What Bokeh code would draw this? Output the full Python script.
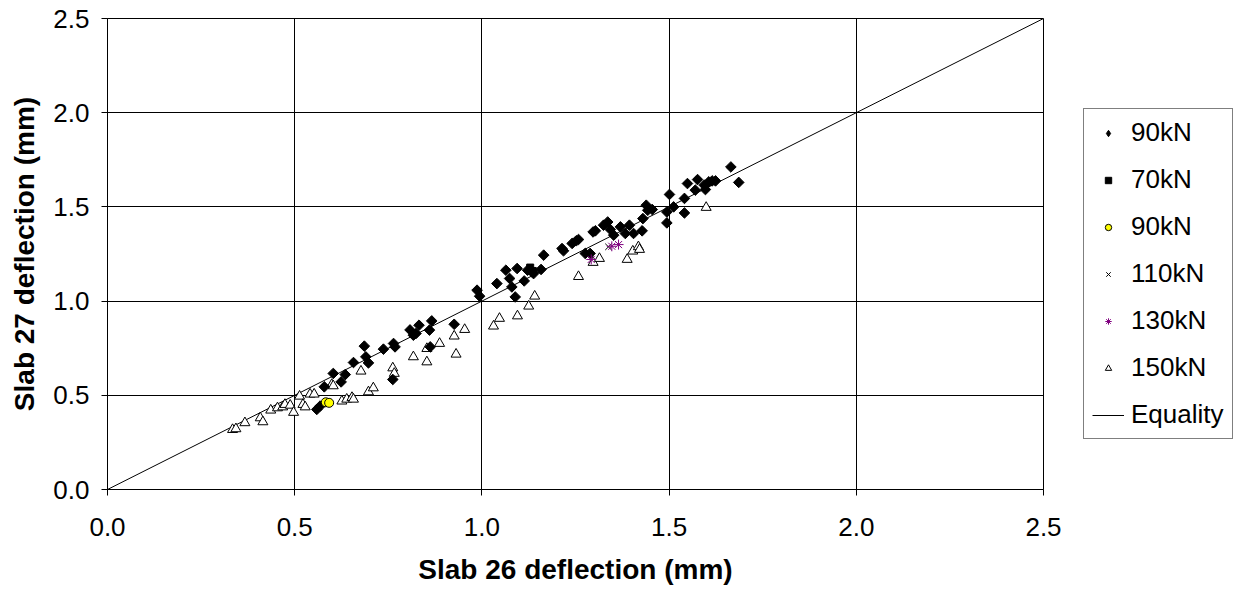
import math
from bokeh.plotting import figure
from bokeh.layouts import row
from bokeh.models import Legend, LegendItem, FixedTicker, Range1d, PrintfTickFormatter
from bokeh.embed import file_html
from bokeh.resources import INLINE

# ---- data ----
d90_x = [0.559, 0.568, 0.579, 0.603, 0.624, 0.635, 0.657, 0.686, 0.690, 0.697, 0.737, 0.762, 0.764, 0.768,
         0.808, 0.817, 0.824, 0.832, 0.860, 0.866, 0.862, 0.926, 0.987, 0.994, 1.040, 1.064, 1.074, 1.080,
         1.089, 1.094, 1.113, 1.122, 1.134, 1.138, 1.158, 1.165, 1.214, 1.218, 1.241, 1.252, 1.258, 1.276,
         1.289, 1.297, 1.303, 1.325, 1.336, 1.343, 1.352, 1.370, 1.383, 1.394, 1.405, 1.428, 1.430, 1.439,
         1.443, 1.455, 1.494, 1.494, 1.501, 1.512, 1.541, 1.541, 1.549, 1.570, 1.576, 1.594, 1.597, 1.606,
         1.615, 1.624, 1.665, 1.686]
d90_y = [0.425, 0.443, 0.545, 0.616, 0.571, 0.610, 0.674, 0.761, 0.704, 0.672, 0.745, 0.584, 0.775, 0.757,
         0.847, 0.819, 0.828, 0.872, 0.846, 0.895, 0.757, 0.877, 1.058, 1.026, 1.093, 1.164, 1.120, 1.075,
         1.022, 1.173, 1.107, 1.164, 1.155, 1.146, 1.168, 1.244, 1.279, 1.267, 1.306, 1.320, 1.327, 1.253,
         1.253, 1.367, 1.373, 1.403, 1.420, 1.380, 1.350, 1.394, 1.359, 1.403, 1.359, 1.373, 1.438, 1.509,
         1.482, 1.486, 1.473, 1.415, 1.566, 1.500, 1.545, 1.468, 1.624, 1.589, 1.645, 1.615, 1.592, 1.633,
         1.638, 1.638, 1.712, 1.630]

d70_x = [1.129, 1.136]
d70_y = [1.178, 1.160]

d90b_x = [0.583, 0.592]
d90b_y = [0.463, 0.460]

d110_x = [1.338]
d110_y = [1.288]

d130_x = [1.292, 1.347, 1.365]
d130_y = [1.221, 1.291, 1.300]

d150_x = [0.334, 0.343, 0.367, 0.408, 0.415, 0.436, 0.454, 0.468, 0.474, 0.488, 0.497, 0.513, 0.522, 0.528,
          0.541, 0.552, 0.599, 0.603, 0.626, 0.639, 0.653, 0.657, 0.677, 0.697, 0.710, 0.762, 0.766, 0.817,
          0.853, 0.853, 0.887, 0.926, 0.931, 0.954, 1.031, 1.047, 1.095, 1.125, 1.141, 1.258, 1.297, 1.314,
          1.388, 1.403, 1.418, 1.421, 1.599]
d150_y = [0.318, 0.322, 0.354, 0.380, 0.359, 0.421, 0.433, 0.438, 0.451, 0.447, 0.409, 0.495, 0.451, 0.438,
          0.506, 0.506, 0.557, 0.550, 0.469, 0.479, 0.488, 0.479, 0.628, 0.518, 0.539, 0.645, 0.616, 0.704,
          0.748, 0.677, 0.775, 0.814, 0.718, 0.849, 0.867, 0.908, 0.921, 0.973, 1.026, 1.130, 1.205, 1.226,
          1.221, 1.265, 1.288, 1.274, 1.497]

eq_x = [0.0, 2.5]
eq_y = [0.0, 2.5]

series_labels = ["90kN", "70kN", "90kN", "110kN", "130kN", "150kN", "Equality"]
ticks = [0.0, 0.5, 1.0, 1.5, 2.0, 2.5]
FONT = "Liberation Sans"

# ---- main chart ----
p = figure(width=1063, height=589, output_backend="svg", toolbar_location=None,
           x_range=Range1d(0, 2.5), y_range=Range1d(0, 2.5),
           min_border_left=107, min_border_right=20, min_border_top=18, min_border_bottom=100)
p.background_fill_color = "white"
p.border_fill_color = "white"
p.outline_line_color = "black"
p.outline_line_width = 1

for ax, lab in ((p.xaxis[0], "Slab 26 deflection (mm)"), (p.yaxis[0], "Slab 27 deflection (mm)")):
    ax.ticker = FixedTicker(ticks=ticks)
    ax.formatter = PrintfTickFormatter(format="%.1f")
    ax.axis_label = lab
    ax.axis_label_text_font = FONT
    ax.axis_label_text_font_style = "bold"
    ax.axis_label_text_font_size = "28px"
    ax.axis_label_text_color = "black"
    ax.major_label_text_font = FONT
    ax.major_label_text_font_size = "26px"
    ax.major_label_text_color = "black"
    ax.axis_line_color = "black"
    ax.major_tick_line_color = "black"
    ax.major_tick_out = 6
    ax.major_tick_in = 0
    ax.minor_tick_line_color = None
p.xaxis.major_label_standoff = 22
p.xaxis.axis_label_standoff = 15
p.yaxis.major_label_standoff = 12
p.yaxis.axis_label_standoff = 10

for g in (p.xgrid[0], p.ygrid[0]):
    g.ticker = FixedTicker(ticks=ticks)
    g.grid_line_color = "black"
    g.grid_line_width = 1

STY = {
    "eq": dict(line_color="black", line_width=1),
    "150": dict(marker="triangle", size=10, fill_color="white", line_color="black", line_width=1),
    "70": dict(marker="square", size=7, fill_color="black", line_color="black"),
    "90b": dict(marker="circle", size=9, fill_color="yellow", line_color="black", line_width=1),
    "110": dict(marker="x", size=9, line_color="black", line_width=1),
    "130": dict(marker="asterisk", size=10, line_color="#800080", line_width=1),
}

p.line(eq_x, eq_y, **STY["eq"])
p.scatter(d150_x, d150_y, **STY["150"])
p.scatter(d90_x, d90_y, marker="square", angle=math.pi / 4, size=7.5, fill_color="black", line_color="black")
p.scatter(d70_x, d70_y, **STY["70"])
p.scatter(d90b_x, d90b_y, **STY["90b"])
p.scatter(d110_x, d110_y, **STY["110"])
p.scatter(d130_x, d130_y, **STY["130"])

# ---- legend panel: a separate figure to the right; its ranges keep its own
#      copies of the series out of view, so only the legend is seen ----
lg = figure(width=173, height=589, output_backend="svg", toolbar_location=None,
            x_range=Range1d(10, 11), y_range=Range1d(10, 11),
            min_border_left=0, min_border_right=0, min_border_top=0, min_border_bottom=0)
lg.axis.visible = False
lg.grid.visible = False
lg.outline_line_color = None
lg.background_fill_color = "white"
lg.border_fill_color = "white"

lr = [
    lg.scatter(d90_x, d90_y, marker="diamond", size=8, fill_color="black", line_color="black"),
    lg.scatter(d70_x, d70_y, **STY["70"]),
    lg.scatter(d90b_x, d90b_y, **STY["90b"]),
    lg.scatter(d110_x, d110_y, **STY["110"]),
    lg.scatter(d130_x, d130_y, **STY["130"]),
    lg.scatter(d150_x, d150_y, **STY["150"]),
    lg.line(eq_x, eq_y, **STY["eq"]),
]
items = [LegendItem(label=lab, renderers=[r]) for lab, r in zip(series_labels, lr)]
legend = Legend(items=items, location=(20, 50), margin=0, padding=8, spacing=16,
                glyph_width=32, glyph_height=16, label_height=26, label_standoff=7,
                label_text_font=FONT, label_text_font_size="26px", label_text_color="black",
                border_line_color="black", border_line_width=1, background_fill_color="white",
                background_fill_alpha=1.0)
lg.add_layout(legend)

layout = row(p, lg, spacing=0)
open("out.html", "w").write(file_html(layout, INLINE))
